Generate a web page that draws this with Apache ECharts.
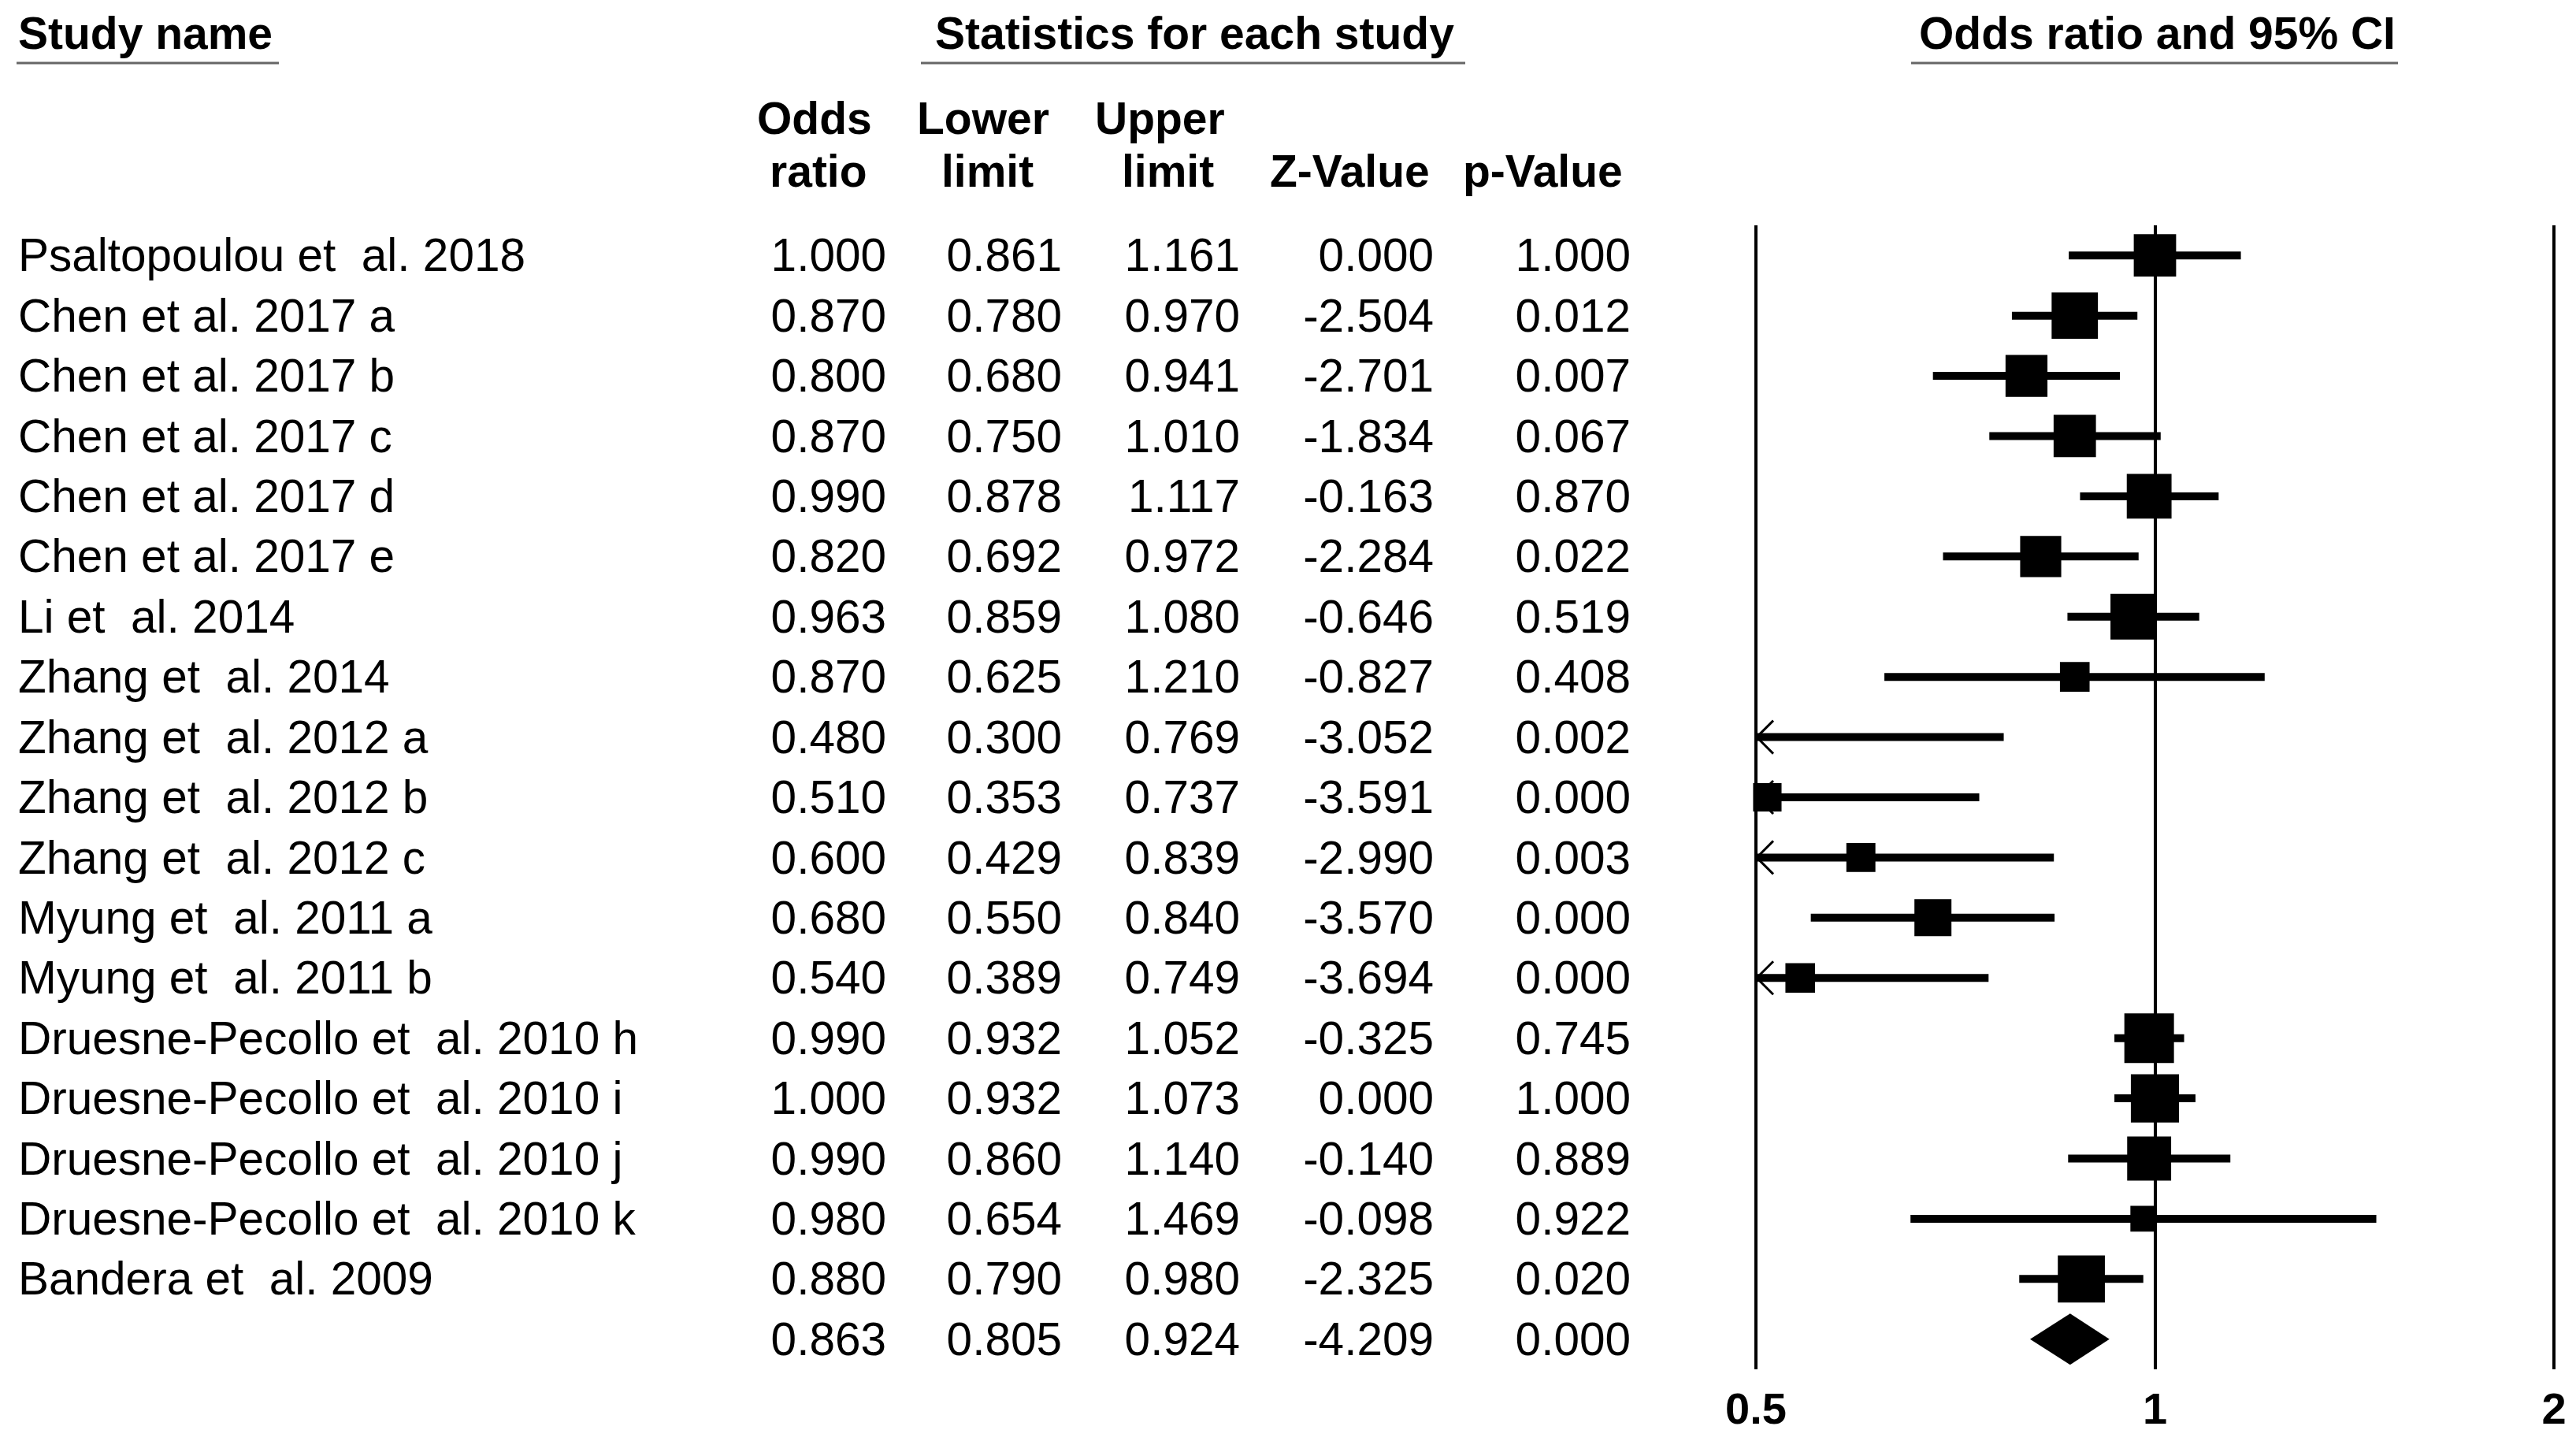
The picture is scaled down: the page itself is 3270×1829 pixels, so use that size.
<!DOCTYPE html>
<html><head><meta charset="utf-8">
<script src="https://cdn.jsdelivr.net/npm/echarts@6.0.0/dist/echarts.min.js"></script>
<style>html,body{margin:0;padding:0;background:#fff}#c{width:3270px;height:1829px}</style>
</head><body><div id="c"></div>
<script>
// ---------- data ----------
const studies = [
  'Psaltopoulou et  al. 2018','Chen et al. 2017 a','Chen et al. 2017 b','Chen et al. 2017 c',
  'Chen et al. 2017 d','Chen et al. 2017 e','Li et  al. 2014','Zhang et  al. 2014',
  'Zhang et  al. 2012 a','Zhang et  al. 2012 b','Zhang et  al. 2012 c','Myung et  al. 2011 a',
  'Myung et  al. 2011 b','Druesne-Pecollo et  al. 2010 h','Druesne-Pecollo et  al. 2010 i',
  'Druesne-Pecollo et  al. 2010 j','Druesne-Pecollo et  al. 2010 k','Bandera et  al. 2009'
];
const oddsRatio  = [1.000,0.870,0.800,0.870,0.990,0.820,0.963,0.870,0.480,0.510,0.600,0.680,0.540,0.990,1.000,0.990,0.980,0.880];
const lowerLimit = [0.861,0.780,0.680,0.750,0.878,0.692,0.859,0.625,0.300,0.353,0.429,0.550,0.389,0.932,0.932,0.860,0.654,0.790];
const upperLimit = [1.161,0.970,0.941,1.010,1.117,0.972,1.080,1.210,0.769,0.737,0.839,0.840,0.749,1.052,1.073,1.140,1.469,0.980];
const zValue     = [0.000,-2.504,-2.701,-1.834,-0.163,-2.284,-0.646,-0.827,-3.052,-3.591,-2.990,-3.570,-3.694,-0.325,0.000,-0.140,-0.098,-2.325];
const pValue     = [1.000,0.012,0.007,0.067,0.870,0.022,0.519,0.408,0.002,0.000,0.003,0.000,0.000,0.745,1.000,0.889,0.922,0.020];
// relative study weights (read from the square areas)
const weights    = [5.1,6.1,5.0,5.1,5.7,4.8,5.9,2.5,3.0,2.3,2.4,3.9,2.5,7.0,6.6,5.5,1.9,6.3];
const pooledOR = 0.863, pooledLower = 0.805, pooledUpper = 0.924, pooledZ = -4.209, pooledP = 0.000;
const xTicks = [0.5, 1, 2];
const xTickLabels = ['0.5', '1', '2'];

// ---------- chart ----------
const FONT = '"Liberation Sans", Arial, sans-serif';
const nRows = studies.length + 1;
const colRight = [1125, 1348, 1574, 1820, 2070];

const forestData = studies.map((s, i) => [i, oddsRatio[i], lowerLimit[i], upperLimit[i], weights[i]]);
const tableRows = studies.map((s, i) => ({ value: [i, oddsRatio[i]], name: s, cols: [oddsRatio[i], lowerLimit[i], upperLimit[i], zValue[i], pValue[i]] }));
tableRows.push({ value: [studies.length, pooledOR], name: '', cols: [pooledOR, pooledLower, pooledUpper, pooledZ, pooledP] });

const chart = echarts.init(document.getElementById('c'), null, { renderer: 'canvas' });

function headerText(text, x, y, align) {
  return { type: 'text', x: x, y: y, silent: true,
    style: { text: text, fill: '#000', font: 'bold 57px ' + FONT, align: align || 'left', verticalAlign: 'middle' } };
}
function underline(x1, x2) {
  return { type: 'line', silent: true, shape: { x1: x1, y1: 80, x2: x2, y2: 80 }, style: { stroke: '#666', lineWidth: 3 } };
}

chart.setOption({
  animation: false,
  backgroundColor: '#fff',
  grid: { left: 2229, right: 28, top: 286, bottom: 91, containLabel: false },
  xAxis: {
    type: 'log', logBase: 2, min: xTicks[0], max: xTicks[xTicks.length - 1], interval: 1,
    axisLine: { show: false }, axisTick: { show: false },
    splitLine: { show: true, showMinLine: true, showMaxLine: true, lineStyle: { color: '#000', width: 4 } },
    axisLabel: {
      show: true, margin: 26, color: '#000', fontWeight: 'bold', fontSize: 56, fontFamily: FONT,
      formatter: function (v) {
        let best = 0;
        xTicks.forEach((t, k) => { if (Math.abs(t - v) < Math.abs(xTicks[best] - v)) best = k; });
        return xTickLabels[best];
      }
    }
  },
  yAxis: { type: 'value', min: -0.5, max: nRows - 0.5, inverse: true, show: false, splitLine: { show: false } },
  graphic: [
    headerText('Study name', 23, 46),
    underline(21, 354),
    headerText('Statistics for each study', 1187, 46),
    underline(1169, 1860),
    headerText('Odds ratio and 95% CI', 2436, 46),
    underline(2426, 3044),
    headerText('Odds', 961, 154), headerText('ratio', 977, 221),
    headerText('Lower', 1164, 154), headerText('limit', 1195, 221),
    headerText('Upper', 1390, 154), headerText('limit', 1424, 221),
    headerText('Z-Value', 1612, 221),
    headerText('p-Value', 1857, 221)
  ],
  series: [
    {
      type: 'custom', name: 'studies', clip: false, silent: true,
      data: forestData,
      encode: { x: 1, y: 0 },
      renderItem: function (params, api) {
        const row = api.value(0), or = api.value(1), lo = api.value(2), hi = api.value(3), w = api.value(4);
        const y = api.coord([1, row])[1];
        const xMin = api.coord([xTicks[0], row])[0];
        const xL = api.coord([Math.max(lo, xTicks[0]), row])[0];
        const xU = api.coord([Math.min(hi, xTicks[2]), row])[0];
        const children = [{
          type: 'rect', shape: { x: xL, y: y - 5, width: xU - xL, height: 10 }, style: { fill: '#000' }
        }];
        if (or >= xTicks[0]) {
          const side = 23.8 * Math.sqrt(w);
          const xo = api.coord([or, row])[0];
          children.push({ type: 'rect', shape: { x: xo - side / 2, y: y - side / 2, width: side, height: side }, style: { fill: '#000' } });
        }
        if (lo < xTicks[0]) {
          children.push({ type: 'polyline', shape: { points: [[xMin + 22, y - 21], [xMin + 1, y], [xMin + 22, y + 21]] },
            style: { stroke: '#000', lineWidth: 3, fill: null } });
        }
        return { type: 'group', children: children };
      },
      z: 3
    },
    {
      type: 'custom', name: 'pooled', clip: false, silent: true,
      data: [[studies.length, pooledOR, pooledLower, pooledUpper]],
      encode: { x: 1, y: 0 },
      renderItem: function (params, api) {
        const row = api.value(0);
        const y = api.coord([1, row])[1];
        const xo = api.coord([api.value(1), row])[0];
        const xl = api.coord([api.value(2), row])[0];
        const xu = api.coord([api.value(3), row])[0];
        return { type: 'polygon', shape: { points: [[xl, y], [xo, y - 32.5], [xu, y], [xo, y + 32.5]] }, style: { fill: '#000' } };
      },
      z: 3
    },
    {
      type: 'custom', name: 'table', clip: false, silent: true,
      data: tableRows,
      encode: { x: 1, y: 0 },
      renderItem: function (params, api) {
        const idx = params.dataIndex;
        const r = tableRows[idx];
        const y = api.coord([1, api.value(0)])[1] + 4;
        const font = '58.5px ' + FONT;
        const children = [];
        if (r.name) children.push({ type: 'text', x: 23, y: y, style: { text: r.name, fill: '#000', font: font, align: 'left', verticalAlign: 'middle' } });
        r.cols.forEach((v, k) => {
          children.push({ type: 'text', x: colRight[k], y: y, style: { text: v.toFixed(3), fill: '#000', font: font, align: 'right', verticalAlign: 'middle' } });
        });
        return { type: 'group', children: children };
      },
      z: 4
    }
  ]
});
</script>
</body></html>
